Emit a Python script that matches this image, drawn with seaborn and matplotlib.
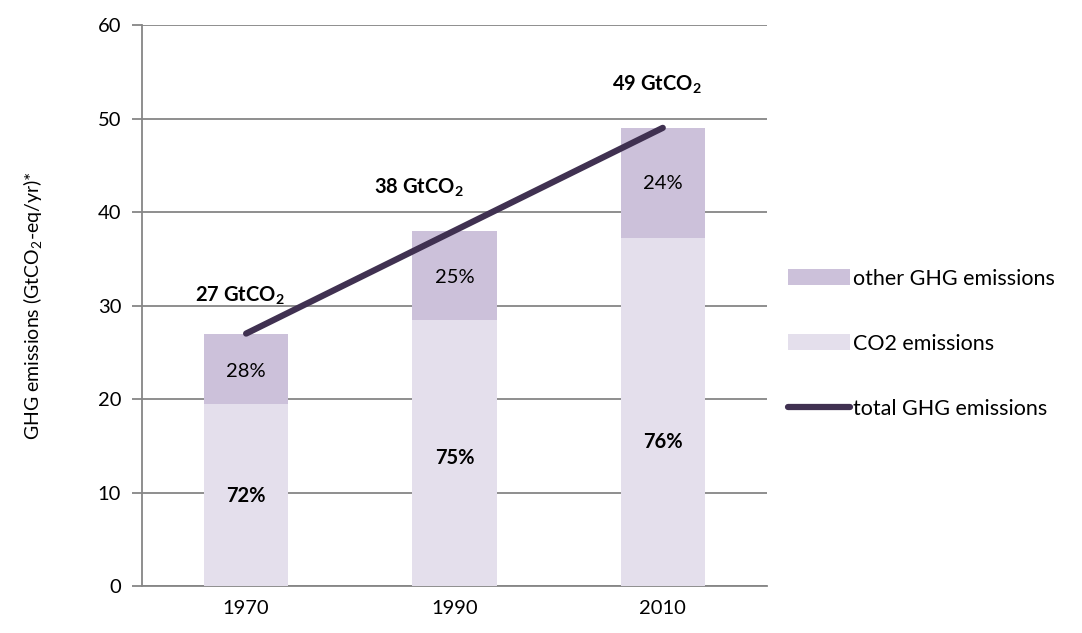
import matplotlib
matplotlib.use("Agg")
import matplotlib.pyplot as plt
import seaborn as sns
import numpy as np
from matplotlib.patches import Patch
from matplotlib.lines import Line2D

# data
years = ["1970", "1990", "2010"]
total_ghg = [27, 38, 49]
co2_share = [0.72, 0.75, 0.76]
other_share = [0.28, 0.25, 0.24]
co2_emissions = [t * s for t, s in zip(total_ghg, co2_share)]
total_labels = [r"27 GtCO$_\mathbf{2}$", r"38 GtCO$_\mathbf{2}$", r"49 GtCO$_\mathbf{2}$"]
co2_pct_labels = ["72%", "75%", "76%"]
other_pct_labels = ["28%", "25%", "24%"]

# colours
C_OTHER = "#ccc1da"
C_CO2 = "#e4dfec"
C_LINE = "#403151"
C_GRID = "#868686"

FONT = "Lato"
sns.set_style("white")
plt.rcParams["font.family"] = [FONT, "DejaVu Sans"]
plt.rcParams["mathtext.fontset"] = "custom"
plt.rcParams["mathtext.rm"] = FONT
plt.rcParams["mathtext.bf"] = FONT + ":bold"
for k in ["text.color", "axes.labelcolor", "xtick.labelcolor", "ytick.labelcolor"]:
    plt.rcParams[k] = "black"

fig = plt.figure(figsize=(10.82, 6.33), dpi=100)
ax = fig.add_axes([0.1312, 0.0742, 0.5776, 0.8863])

# stacked bars: total first, CO2 part on top of it
sns.barplot(x=years, y=total_ghg, color=C_OTHER, width=0.405, ax=ax,
            saturation=1, linewidth=0, edgecolor="none", zorder=2)
sns.barplot(x=years, y=co2_emissions, color=C_CO2, width=0.405, ax=ax,
            saturation=1, linewidth=0, edgecolor="none", zorder=3)

# total line
xpos = np.arange(len(years))
ax.plot(xpos, total_ghg, color=C_LINE, lw=4.5, solid_capstyle="round", zorder=4)

# labels
total_label_y = [31.0, 42.6, 53.6]
total_label_x = [-0.03, 0.83, 1.97]
for x, y, lab in zip(total_label_x, total_label_y, total_labels):
    ax.text(x, y, lab, ha="center", va="center", fontsize=14.5,
            fontweight="bold", zorder=5)
other_y = [22.9, 33.0, 43.0]
for x, y, lab in zip(xpos, other_y, other_pct_labels):
    ax.text(x, y, lab, ha="center", va="center", fontsize=14.5, zorder=5)
co2_y = [9.6, 13.7, 15.4]
for x, y, lab in zip(xpos, co2_y, co2_pct_labels):
    ax.text(x, y, lab, ha="center", va="center", fontsize=14.5,
            fontweight="bold", zorder=5)

# axes styling
ax.set_ylim(0, 60)
ax.set_xlim(-0.5, 2.5)
ax.set_yticks(range(0, 61, 10))
ax.yaxis.grid(True, color=C_GRID, lw=1.3)
ax.set_axisbelow(True)
for s in ["top", "right"]:
    ax.spines[s].set_visible(False)
for s in ["left", "bottom"]:
    ax.spines[s].set_color(C_GRID)
    ax.spines[s].set_linewidth(1.3)
ax.set_xticks(xpos)
ax.set_xticklabels(years)
ax.set_xticks([-0.5, 0.5, 1.5, 2.5], minor=True)
ax.tick_params(axis="x", which="major", length=0, labelsize=14.5, pad=10)
ax.tick_params(axis="x", which="minor", length=7, width=1.3, color=C_GRID,
               direction="out")
ax.tick_params(axis="y", length=7, width=1.3, color=C_GRID, labelsize=14.5,
               direction="out", pad=8, left=True)
ax.set_xlabel("")
ax.set_ylabel("GHG emissions (GtCO$_2$-eq/yr)*", fontsize=14, labelpad=38)

# legend on the right
handles = [
    Patch(facecolor=C_OTHER, edgecolor="none"),
    Patch(facecolor=C_CO2, edgecolor="none"),
    Line2D([0], [0], color=C_LINE, lw=4.5, solid_capstyle="round"),
]
labels = ["other GHG emissions", "CO2 emissions", "total GHG emissions"]
fig.legend(handles, labels, loc="center left", bbox_to_anchor=(0.728, 0.457),
           frameon=False, fontsize=15.5, handlelength=2.9, handleheight=0.75,
           handletextpad=0.15, labelspacing=2.1, borderpad=0, borderaxespad=0)

fig.savefig("out.png", dpi=100)
